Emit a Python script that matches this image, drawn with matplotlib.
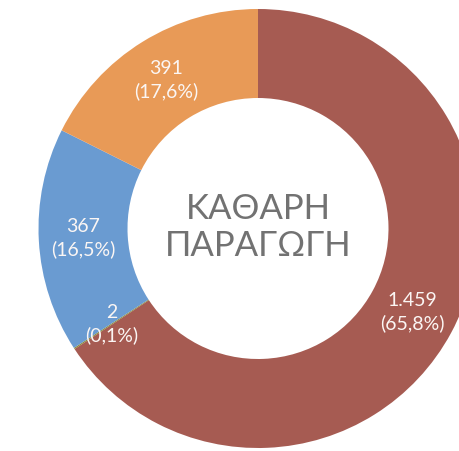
import numpy as np
import matplotlib
matplotlib.use("Agg")
import matplotlib.pyplot as plt

# Net production split
values = [1459, 2, 367, 391]
value_labels = ["1.459", "2", "367", "391"]
pct_labels = ["65,8%", "0,1%", "16,5%", "17,6%"]
colors = ["#a65b52", "#8c8a3c", "#6a9bd1", "#e89a57"]
center_title = "ΚΑΘΑΡΗ\nΠΑΡΑΓΩΓΗ"

W, H = 459, 451
fig = plt.figure(figsize=(W / 100, H / 100), dpi=100)
ax = fig.add_axes([0, 0, 1, 1])

cx, cy = 258, H - 228.5
R = 219.5
ring = 89

wedges, _ = ax.pie(values, colors=colors, startangle=90, counterclock=False,
                   center=(cx, cy), radius=R,
                   wedgeprops=dict(width=ring, linewidth=0))

font = ["Lato", "DejaVu Sans"]
r_lab = R - ring / 2
for w, v, p in zip(wedges, value_labels, pct_labels):
    mid = np.deg2rad((w.theta1 + w.theta2) / 2)
    x = cx + r_lab * np.cos(mid)
    y = cy + r_lab * np.sin(mid)
    ax.text(x, y, f"{v}\n({p})", ha="center", va="center", color="#fbf6f4",
            fontsize=14, family=font, weight="normal", linespacing=1.35)

ax.text(cx, cy + 1, center_title, ha="center", va="center", color="#727272",
        fontsize=25, family=font, weight="normal", linespacing=1.2)

ax.set_xlim(0, W)
ax.set_ylim(0, H)
ax.set_aspect("equal")
ax.axis("off")

fig.savefig("out.png", dpi=100)
